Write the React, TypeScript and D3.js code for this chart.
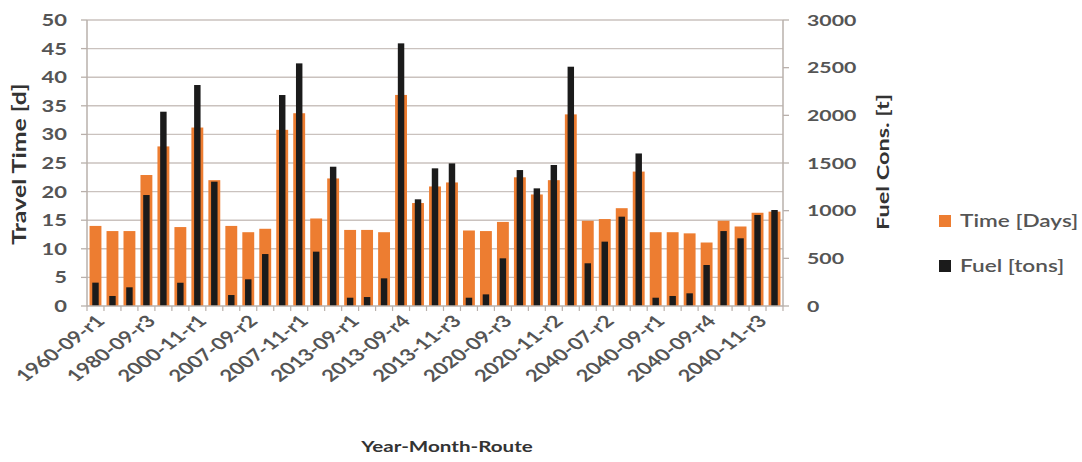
import React from 'react';
import * as d3 from 'd3';

const categories: string[] = [
  '1960-09-r1', '1960-09-r3', '1980-09-r1', '1980-09-r3', '1980-09-r4', '2000-09-r1',
  '2000-11-r1', '2000-11-r3', '2007-09-r1', '2007-09-r2', '2007-09-r3', '2007-09-r4',
  '2007-11-r1', '2007-11-r3', '2013-07-r2', '2013-09-r1', '2013-09-r2', '2013-09-r3',
  '2013-09-r4', '2013-11-r1', '2013-11-r2', '2013-11-r3', '2020-09-r1', '2020-09-r2',
  '2020-09-r3', '2020-09-r4', '2020-11-r1', '2020-11-r2', '2020-11-r3', '2040-07-r1',
  '2040-07-r2', '2040-07-r3', '2040-07-r4', '2040-09-r1', '2040-09-r2', '2040-09-r3',
  '2040-09-r4', '2040-11-r1', '2040-11-r2', '2040-11-r3', '2040-11-r4',
];

const timeDays: number[] = [
  14.0, 13.1, 13.1, 22.9, 27.9, 13.8, 31.2, 22.0, 14.0, 12.9, 13.5, 30.8, 33.7, 15.3,
  22.3, 13.3, 13.3, 12.9, 36.9, 18.0, 20.9, 21.6, 13.2, 13.1, 14.7, 22.5, 19.5, 22.0,
  33.5, 14.9, 15.2, 17.1, 23.5, 12.9, 12.9, 12.7, 11.1, 14.9, 13.9, 16.3, 16.5,
];

const fuelTons: number[] = [
  245, 105, 196, 1164, 2038, 244, 2318, 1304, 115, 280, 545, 2213, 2545, 570,
  1461, 87, 94, 290, 2755, 1119, 1444, 1496, 87, 122, 500, 1426, 1234, 1479,
  2510, 448, 675, 937, 1600, 87, 105, 133, 430, 786, 710, 955, 1007,
];

const leftTicks: number[] = [0, 5, 10, 15, 20, 25, 30, 35, 40, 45, 50];
const rightTicks: number[] = [0, 500, 1000, 1500, 2000, 2500, 3000];

const seriesNames = ['Time [Days]', 'Fuel [tons]'];
const seriesColors = ['#ED7D31', '#1b1b1b'];

const FONT = "Lato, 'Open Sans', sans-serif";
const SX = 1.33; // horizontal stretch of the reference picture

export default function App() {
  const W = 1082;
  const H = 462;
  const left = 87, right = 783, top = 20, bottom = 306;

  const x = d3.scaleBand<string>().domain(categories).range([left, right]).padding(0);
  const yL = d3.scaleLinear().domain([0, 50]).range([bottom, top]);
  const yR = d3.scaleLinear().domain([0, 3000]).range([bottom, top]);
  const bw = x.bandwidth();
  const oW = bw * 0.7;
  const bW = bw * 0.38;

  const gridColor = '#cac2be';
  const axisColor = '#b9b0ab';
  const textColor = '#555555';
  const titleColor = '#333333';

  const boundaries = d3.range(categories.length + 1).map((i) => left + i * bw);

  return (
    <svg width={W} height={H} style={{ position: 'absolute', left: 0, top: 0, background: '#fff' }}>
      {/* gridlines */}
      {leftTicks.filter((t) => t > 0).map((t) => (
        <line key={'g' + t} x1={left} x2={right} y1={yL(t)} y2={yL(t)} stroke={gridColor} strokeWidth={1.4} />
      ))}
      {/* bars */}
      {categories.map((c, i) => {
        const cx = (x(c) as number) + bw / 2;
        return (
          <g key={c}>
            <rect x={cx - oW / 2} y={yL(timeDays[i])} width={oW} height={bottom - yL(timeDays[i])} fill={seriesColors[0]} />
            <rect x={cx - bW / 2} y={yR(fuelTons[i])} width={bW} height={bottom - yR(fuelTons[i])} fill={seriesColors[1]} />
          </g>
        );
      })}
      {/* axes */}
      <line x1={left} x2={left} y1={top} y2={bottom} stroke={axisColor} strokeWidth={1.5} />
      <line x1={right} x2={right} y1={top} y2={bottom} stroke={axisColor} strokeWidth={1.5} />
      <line x1={left} x2={right} y1={bottom} y2={bottom} stroke={axisColor} strokeWidth={1.5} />
      {leftTicks.map((t) => (
        <g key={'l' + t}>
          <line x1={left - 6} x2={left} y1={yL(t)} y2={yL(t)} stroke={axisColor} strokeWidth={1.3} />
          <text transform={`translate(67,${yL(t)}) scale(${SX},1)`} dy="0.36em" textAnchor="end" fontFamily={FONT} fontSize={16.5} fill={textColor} fontWeight={700}>
            {t}
          </text>
        </g>
      ))}
      {rightTicks.map((t) => (
        <g key={'r' + t}>
          <line x1={right} x2={right + 6} y1={yR(t)} y2={yR(t)} stroke={axisColor} strokeWidth={1.3} />
          <text transform={`translate(807,${yR(t)}) scale(${SX},1)`} dy="0.36em" textAnchor="start" fontFamily={FONT} fontSize={16} fill={textColor} fontWeight={700}>
            {t}
          </text>
        </g>
      ))}
      {boundaries.map((b, i) => (
        <line key={'xt' + i} x1={b} x2={b} y1={bottom} y2={bottom + 5} stroke={axisColor} strokeWidth={1.2} />
      ))}
      {categories.map((c, i) =>
        i % 3 === 0 ? (
          <text
            key={'xl' + c}
            transform={`translate(${(x(c) as number) + bw / 2 + 5},${bottom + 12}) scale(${SX},1) rotate(-45)`}
            textAnchor="end"
            dy="0.35em"
            fontFamily={FONT}
            fontSize={16.6}
            fontWeight={700}
            fill={textColor}
          >
            {c}
          </text>
        ) : null
      )}
      {/* axis titles */}
      <text transform={`translate(20,164) rotate(-90) scale(1.38,1)`} textAnchor="middle" dy="0.35em" fontFamily={FONT} fontSize={18} fontWeight={700} fill={titleColor}>
        Travel Time [d]
      </text>
      <text transform={`translate(883,162) rotate(-90) scale(1.38,1)`} textAnchor="middle" dy="0.35em" fontFamily={FONT} fontSize={17} fontWeight={700} fill={titleColor}>
        Fuel Cons. [t]
      </text>
      <text transform={`translate(447,447) scale(${SX},1)`} textAnchor="middle" dy="0.35em" fontFamily={FONT} fontSize={15.5} fontWeight={700} fill={titleColor}>
        Year-Month-Route
      </text>
      {/* legend */}
      {seriesNames.map((s, i) => (
        <g key={s} transform={`translate(939,${221 + i * 45})`}>
          <rect x={0} y={-6} width={12} height={12} fill={seriesColors[i]} />
          <text transform={`translate(21,0) scale(${SX},1)`} dy="0.35em" fontFamily={FONT} fontSize={17} fill={textColor} fontWeight={600}>
            {s}
          </text>
        </g>
      ))}
    </svg>
  );
}
